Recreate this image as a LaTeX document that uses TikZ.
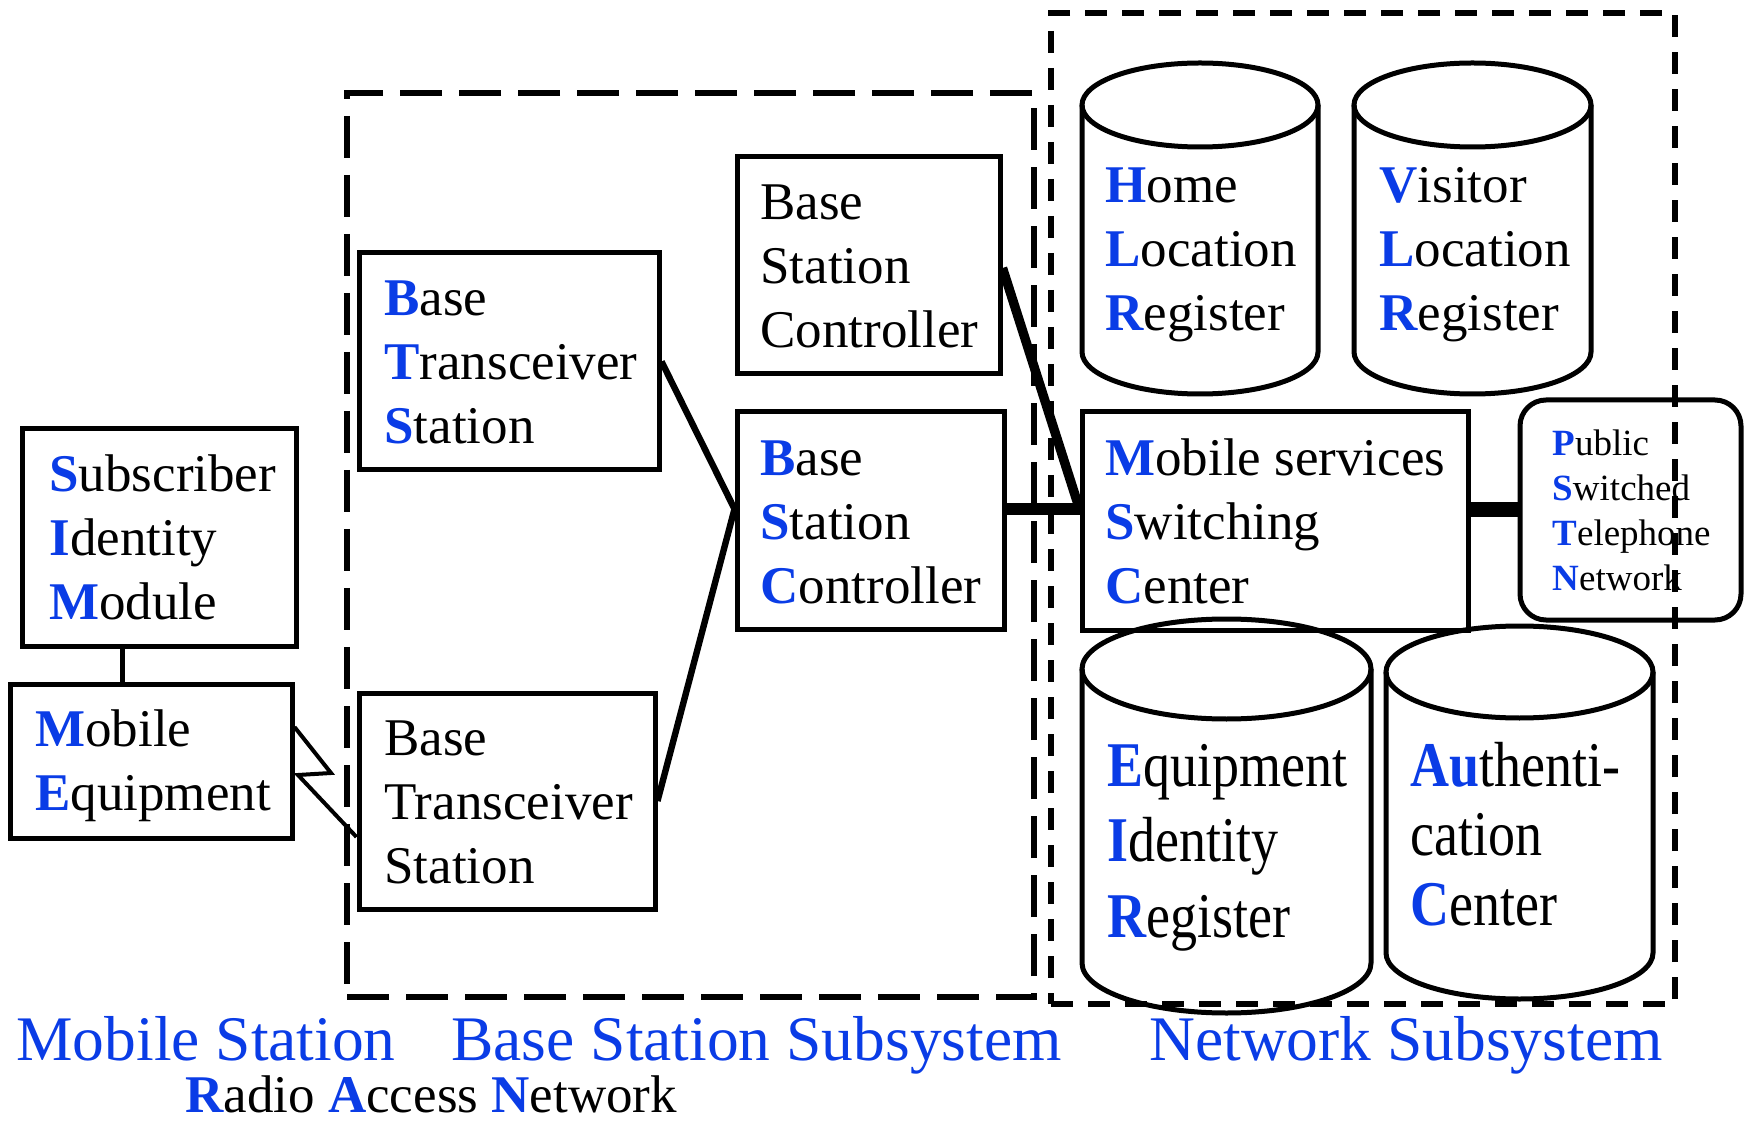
\documentclass[tikz,border=0pt]{standalone}
\usepackage{fontspec}
\setmainfont{Liberation Serif}
\usepackage{graphicx}
\usetikzlibrary{fit}
\definecolor{gsmblue}{RGB}{10,60,230}
\newcommand\ini[1]{\textbf{\textcolor{gsmblue}{#1}}}
\newcommand\stack[1]{\begin{tabular}[t]{@{}l@{}}#1\end{tabular}}
\newcommand\dbcyl[5]{%
  \pgfmathsetmacro\cylcx{(#1+#2)/2}%
  \pgfmathsetmacro\cylrx{(#2-#1)/2}%
  \pgfmathsetmacro\cylyt{#3+#5}%
  \pgfmathsetmacro\cylyb{#4-#5}%
  \draw[cylline] (\cylcx,\cylyt) ellipse[x radius=\cylrx, y radius=#5];
  \draw[cylline] (#1,\cylyt) -- (#1,\cylyb) arc[start angle=180, end angle=0, x radius=\cylrx, y radius=#5] -- (#2,\cylyt);
}
\begin{document}
\begin{tikzpicture}[x=0.5pt, y=-0.5pt,
  box/.style={draw, line width=2.5pt, rectangle, inner sep=0pt},
  roundbox/.style={box, rounded corners=13pt},
  cylline/.style={line width=2.5pt},
  link/.style={line width=3.2pt},
  simlink/.style={line width=2.5pt},
  radiolink/.style={line width=2pt},
  bsclink/.style={line width=4.7pt},
  trunk/.style={line width=6pt},
  pstnlink/.style={line width=7.5pt},
  bssframe/.style={draw, line width=2.6pt, dash pattern=on 21pt off 8.5pt, inner sep=0pt},
  nssframe/.style={draw, line width=2.6pt, dash pattern=on 11pt off 7.5pt, inner sep=0pt},
  txt/.style={anchor=base west, inner sep=0pt, font=\fontsize{26.5}{32}\selectfont},
  small/.style={txt, font=\fontsize{18.5}{22.5}\selectfont},
  lbl/.style={anchor=base west, inner sep=0pt, text=gsmblue, font=\fontsize{31.75}{36}\selectfont}
]
\useasboundingbox (0,0) rectangle (1745,1122);

% subsystem frames
\node[bssframe, fit={(347,93) (1034,997)}] (bss) {};
\node[nssframe, fit={(1051,13) (1675,1004)}] (nss) {};

% boxes
\node[box, fit={(22,429) (296,646)}] (sim) {};
\node[box, fit={(10,684) (292,838)}] (me) {};
\node[box, fit={(359,253) (659,470)}] (bts1) {};
\node[box, fit={(359,693) (655,909)}] (bts2) {};
\node[box, fit={(737,157) (1000,374)}] (bsc1) {};
\node[box, fit={(737,412) (1004,629)}] (bsc2) {};
\node[box, fit={(1082,412) (1468,630)}] (msc) {};
\node[roundbox, fit={(1520,400) (1741,620)}] (pstn) {};

% databases
\dbcyl{1082}{1318}{63}{394}{42}
\dbcyl{1354}{1591}{63}{394}{42}
\dbcyl{1082}{1371}{619}{1013}{50}
\dbcyl{1386}{1653}{626}{999}{46}

% texts
\node[txt] (simt) at (49,492) {\stack{\ini{S}ubscriber\\ \ini{I}dentity\\ \ini{M}odule}};
\node[txt] (met) at (35,746) {\stack{\ini{M}obile\\ \ini{E}quipment}};
\node[txt] (bts1t) at (384,316) {\stack{\ini{B}ase\\ \ini{T}ransceiver\\ \ini{S}tation}};
\node[txt] (bts2t) at (384,755) {\stack{Base\\ Transceiver\\ Station}};
\node[txt] (bsc1t) at (760,220) {\stack{Base\\ Station\\ Controller}};
\node[txt] (bsc2t) at (760,476) {\stack{\ini{B}ase\\ \ini{S}tation\\ \ini{C}ontroller}};
\node[txt] (msct) at (1105,476) {\stack{\ini{M}obile services\\ \ini{S}witching\\ \ini{C}enter}};
\node[txt] (hlrt) at (1105,203) {\stack{\ini{H}ome\\ \ini{L}ocation\\ \ini{R}egister}};
\node[txt] (vlrt) at (1379,203) {\stack{\ini{V}isitor\\ \ini{L}ocation\\ \ini{R}egister}};
\node[small] (pstnt) at (1552,456) {\stack{\ini{P}ublic\\ \ini{S}witched\\ \ini{T}elephone\\ \ini{N}etwork}};
\node[txt] (eirt) at (1107,786) {\scalebox{1}[1.18]{\fontsize{27}{32.2}\selectfont\stack{\ini{E}quipment\\ \ini{I}dentity\\ \ini{R}egister}}};
\node[txt] (auct) at (1410,786) {\scalebox{1}[1.18]{\fontsize{27}{29.5}\selectfont\stack{\ini{Au}thenti-\\ cation\\ \ini{C}enter}}};

% bottom labels
\node[lbl] (msl) at (16,1060) {Mobile Station};
\node[lbl] (bssl) at (451,1060) {Base Station Subsystem};
\node[lbl] (nssl) at (1149,1060) {Network Subsystem};
\node[txt] (ranl) at (185,1112) {\ini{R}adio \ini{A}ccess \ini{N}etwork};

% connectors
\coordinate (simx) at (122,0);
\coordinate (jy) at (0,509);
\coordinate (zs) at (0,727);
\coordinate (z1) at (331,773);
\coordinate (z2) at (298,775);
\coordinate (ze) at (0,837);
\coordinate (b1y) at (0,268);
\draw[simlink] (sim.south -| simx) -- (me.north -| simx);
\draw[radiolink] (me.east |- zs) -- (z1) -- (z2) -- (bts2.west |- ze);
\draw[link] (bts1.east) -- (bsc2.west |- jy);
\draw[link] (bts2.east) -- (bsc2.west |- jy);
\draw[bsclink] (bsc1.east |- b1y) -- (msc.west |- jy);
\draw[trunk] (bsc2.east |- jy) -- (msc.west |- jy);
\draw[pstnlink] (msc.east |- pstn.west) -- (pstn.west);
\end{tikzpicture}
\end{document}
